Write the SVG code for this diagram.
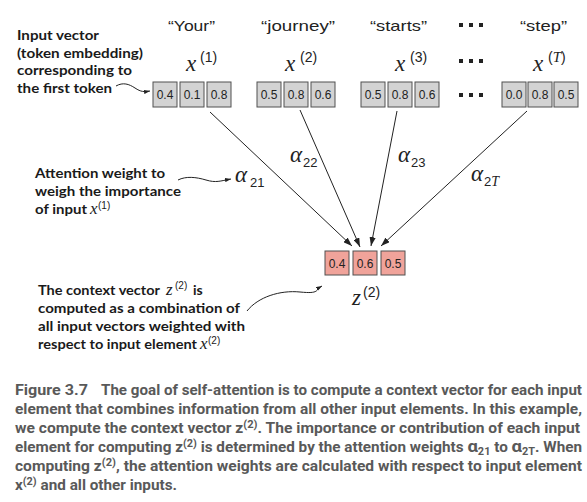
<svg xmlns="http://www.w3.org/2000/svg" width="587" height="502" viewBox="0 0 587 502">
<defs>
<style>
.bg{fill:#ffffff}
.box{fill:#d3d3d3;stroke:#505050;stroke-width:1}
.pbox{fill:#f0a39a;stroke:#505050;stroke-width:1}
.num{font-family:"Liberation Sans",Arial,sans-serif;font-size:12px;fill:#222;text-anchor:middle}
.tok{font-family:"Liberation Sans",Arial,sans-serif;font-size:15px;fill:#222}
.mx{font-family:"Liberation Serif","Times New Roman",serif;font-style:italic;font-size:23px;fill:#222}
.sup{font-family:"Liberation Sans",Arial,sans-serif;font-size:14px;fill:#222}
.sub{font-family:"Liberation Sans",Arial,sans-serif;font-size:13px;fill:#222}
.note{font-family:Lato,"Open Sans","Liberation Sans",sans-serif;font-weight:bold;font-size:14px;fill:#1a1a1a}
.nmx{font-family:"Liberation Serif","Times New Roman",serif;font-style:italic;font-size:17px;fill:#1a1a1a}
.nsup{font-family:"Liberation Sans",Arial,sans-serif;font-size:10px;fill:#1a1a1a}
.cap{font-family:Roboto,"Liberation Sans",sans-serif;font-weight:bold;font-size:14px;fill:#595959}
.dot{fill:#222}
.line{stroke:#222;stroke-width:1;fill:none}
</style>
<marker id="ah" viewBox="0 0 10 7" refX="10" refY="3.5" markerWidth="9" markerHeight="6.3" orient="auto" markerUnits="userSpaceOnUse">
<path d="M0,0 L10,3.5 L0,7 z" fill="#222"/>
</marker>
<marker id="ahs" viewBox="0 0 10 7" refX="10" refY="3.5" markerWidth="6" markerHeight="4.5" orient="auto" markerUnits="userSpaceOnUse">
<path d="M0,0 L10,3.5 L0,7 z" fill="#222"/>
</marker>
</defs>
<rect class="bg" x="0" y="0" width="587" height="502"/>

<g id="token-labels">
<text class="tok" x="168" y="31" textLength="47" lengthAdjust="spacingAndGlyphs">“Your”</text>
<text class="tok" x="261" y="31" textLength="74" lengthAdjust="spacingAndGlyphs">“journey”</text>
<text class="tok" x="370" y="31" textLength="57" lengthAdjust="spacingAndGlyphs">“starts”</text>
<text class="tok" x="520" y="31" textLength="47" lengthAdjust="spacingAndGlyphs">“step”</text>
</g>

<g id="ellipsis">
<rect class="dot" x="459" y="23" width="4" height="4"/><rect class="dot" x="469" y="23" width="4" height="4"/><rect class="dot" x="479" y="23" width="4" height="4"/>
<rect class="dot" x="459" y="59" width="4" height="4"/><rect class="dot" x="469" y="59" width="4" height="4"/><rect class="dot" x="479" y="59" width="4" height="4"/>
<rect class="dot" x="459" y="93" width="4" height="4"/><rect class="dot" x="469" y="93" width="4" height="4"/><rect class="dot" x="479" y="93" width="4" height="4"/>
</g>

<g id="x1">
<text class="mx" x="186" y="71">x</text><text class="sup" x="200" y="62">(1)</text>
<rect class="box" x="153" y="82" width="24" height="25"/><text class="num" x="165" y="99">0.4</text>
<rect class="box" x="180" y="82" width="24" height="25"/><text class="num" x="192" y="99">0.1</text>
<rect class="box" x="207" y="82" width="24" height="25"/><text class="num" x="219" y="99">0.8</text>
</g>
<g id="x2">
<text class="mx" x="285" y="71">x</text><text class="sup" x="300" y="62">(2)</text>
<rect class="box" x="257" y="82" width="24" height="25"/><text class="num" x="269" y="99">0.5</text>
<rect class="box" x="284" y="82" width="24" height="25"/><text class="num" x="296" y="99">0.8</text>
<rect class="box" x="311" y="82" width="24" height="25"/><text class="num" x="323" y="99">0.6</text>
</g>
<g id="x3">
<text class="mx" x="395" y="71">x</text><text class="sup" x="410" y="62">(3)</text>
<rect class="box" x="361" y="82" width="24" height="25"/><text class="num" x="373" y="99">0.5</text>
<rect class="box" x="388" y="82" width="24" height="25"/><text class="num" x="400" y="99">0.8</text>
<rect class="box" x="415" y="82" width="24" height="25"/><text class="num" x="427" y="99">0.6</text>
</g>
<g id="xT">
<text class="mx" x="533" y="71">x</text><text class="sup" x="548" y="62">(<tspan class="mx" style="font-size:15px">T</tspan>)</text>
<rect class="box" x="502" y="82" width="24" height="25"/><text class="num" x="514" y="99">0.0</text>
<rect class="box" x="528" y="82" width="24" height="25"/><text class="num" x="540" y="99">0.8</text>
<rect class="box" x="554" y="82" width="24" height="25"/><text class="num" x="566" y="99">0.5</text>
</g>

<g id="z2">
<rect class="pbox" x="325" y="251" width="24" height="24"/><text class="num" x="337" y="267.5">0.4</text>
<rect class="pbox" x="353" y="251" width="24" height="24"/><text class="num" x="365" y="267.5">0.6</text>
<rect class="pbox" x="381" y="251" width="24" height="24"/><text class="num" x="393" y="267.5">0.5</text>
<text class="mx" x="352" y="305">z</text><text class="sup" x="363" y="297">(2)</text>
</g>

<g id="connectors">
<line class="line" x1="210" y1="112" x2="352" y2="246" marker-end="url(#ah)"/>
<line class="line" x1="300" y1="110" x2="360" y2="247" marker-end="url(#ah)"/>
<line class="line" x1="397" y1="111" x2="371" y2="246" marker-end="url(#ah)"/>
<line class="line" x1="527" y1="111" x2="381" y2="246" marker-end="url(#ah)"/>
<path class="line" d="M116,86 C123,82 129,84 135,88 S144,92 150,91" marker-end="url(#ahs)"/>
<path class="line" d="M178,180 C186,176 196,177 206,180 S220,181 231,179" marker-end="url(#ahs)"/>
<path class="line" d="M247,311 C258,297 280,290 300,292 S315,290 322,286" marker-end="url(#ahs)"/>
</g>

<g id="weights">
<text class="mx" x="235" y="182">α</text><text class="sub" x="250" y="187">21</text>
<text class="mx" x="290" y="162">α</text><text class="sub" x="303" y="167">22</text>
<text class="mx" x="398" y="162">α</text><text class="sub" x="411" y="167">23</text>
<text class="mx" x="471" y="181">α</text><text class="sub" x="484" y="186">2<tspan class="mx" style="font-size:14px">T</tspan></text>
</g>

<g id="note-input">
<text class="note" x="17" y="40" textLength="82" lengthAdjust="spacingAndGlyphs">Input vector</text>
<text class="note" x="17" y="57.5" textLength="126" lengthAdjust="spacingAndGlyphs">(token embedding)</text>
<text class="note" x="17" y="75" textLength="115" lengthAdjust="spacingAndGlyphs">corresponding to</text>
<text class="note" x="17" y="92.5" textLength="95" lengthAdjust="spacingAndGlyphs">the first token</text>
</g>

<g id="note-weight">
<text class="note" x="35" y="178" textLength="130" lengthAdjust="spacingAndGlyphs">Attention weight to</text>
<text class="note" x="35" y="196" textLength="146" lengthAdjust="spacingAndGlyphs">weigh the importance</text>
<text class="note" x="35" y="214" textLength="52" lengthAdjust="spacingAndGlyphs">of input</text>
<text class="nmx" x="90" y="214">x</text><text class="nsup" x="98" y="209">(1)</text>
</g>

<g id="note-context">
<text class="note" x="38" y="295" textLength="122" lengthAdjust="spacingAndGlyphs">The context vector</text>
<text class="nmx" x="166" y="295">z</text><text class="nsup" x="175" y="289">(2)</text>
<text class="note" x="193" y="295">is</text>
<text class="note" x="38" y="313" textLength="202" lengthAdjust="spacingAndGlyphs">computed as a combination of</text>
<text class="note" x="38" y="331" textLength="207" lengthAdjust="spacingAndGlyphs">all input vectors weighted with</text>
<text class="note" x="38" y="349" textLength="159" lengthAdjust="spacingAndGlyphs">respect to input element</text>
<text class="nmx" x="200" y="349">x</text><text class="nsup" x="208" y="344">(2)</text>
</g>

<g id="caption">
<text class="cap" x="15" y="395" textLength="73" lengthAdjust="spacingAndGlyphs">Figure 3.7</text>
<text class="cap" x="101" y="395" textLength="481" lengthAdjust="spacingAndGlyphs">The goal of self-attention is to compute a context vector for each input</text>
<text class="cap" x="15" y="414" textLength="567" lengthAdjust="spacingAndGlyphs">element that combines information from all other input elements. In this example,</text>
<text class="cap" x="15" y="433" textLength="565" lengthAdjust="spacingAndGlyphs">we compute the context vector z<tspan dy="-5" font-size="10">(2)</tspan><tspan dy="5">. The importance or contribution of each input</tspan></text>
<text class="cap" x="15" y="452" textLength="567" lengthAdjust="spacingAndGlyphs">element for computing z<tspan dy="-5" font-size="10">(2)</tspan><tspan dy="5"> is determined by the attention weights </tspan><tspan font-size="17">α</tspan><tspan dy="3" font-size="10">21</tspan><tspan dy="-3"> to </tspan><tspan font-size="17">α</tspan><tspan dy="3" font-size="10">2T</tspan><tspan dy="-3">. When</tspan></text>
<text class="cap" x="15" y="471" textLength="567" lengthAdjust="spacingAndGlyphs">computing z<tspan dy="-5" font-size="10">(2)</tspan><tspan dy="5">, the attention weights are calculated with respect to input element</tspan></text>
<text class="cap" x="15" y="490" textLength="162" lengthAdjust="spacingAndGlyphs">x<tspan dy="-5" font-size="10">(2)</tspan><tspan dy="5"> and all other inputs.</tspan></text>
</g>
</svg>
